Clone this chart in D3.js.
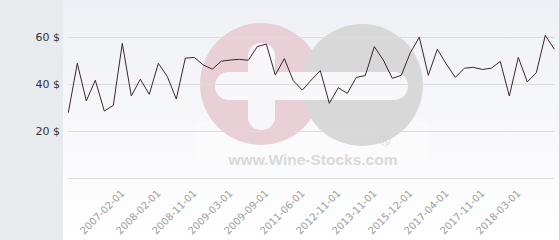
<!DOCTYPE html>
<html lang="en">
<head>
    <script src="https://d3js.org/d3.v7.min.js"></script>
    <style>
        body { margin: 0; background: #fff; }
        svg { display: block; font-family: "DejaVu Sans", sans-serif; }
    </style>
</head>
<body>
    <svg id="chart" width="560" height="240"></svg>
    <script>
        // price per observation, in order
        const prices = [27.8, 48.8, 32.8, 41.6, 28.5, 30.9, 57.3, 34.9, 42.0, 35.6,
            48.8, 43.2, 33.6, 51.0, 51.3, 48.1, 46.3, 49.7, 50.2, 50.5,
            50.1, 55.9, 57.0, 43.8, 50.8, 41.4, 37.4, 41.7, 45.7, 31.8,
            38.4, 36.0, 42.8, 43.6, 55.9, 50.2, 42.4, 43.7, 53.3, 59.9,
            43.7, 54.8, 48.5, 42.8, 46.7, 47.1, 46.2, 46.7, 49.6, 34.9,
            51.3, 40.9, 44.8, 60.7, 54.8];

        // dates shown on the x axis and the observation they belong to
        const tickLabels = ["2007-02-01", "2008-02-01", "2008-11-01", "2009-03-01",
            "2009-09-01", "2011-06-01", "2012-11-01", "2013-11-01",
            "2015-12-01", "2017-04-01", "2017-11-01", "2018-03-01"];
        const tickIndex = [6, 10, 14, 18, 22, 26, 30, 34, 38, 42, 46, 50];

        const yTicks = [20, 40, 60];
        const gridValues = [0, 20, 40, 60];

        const width = 560, height = 240;
        const svg = d3.select("#chart");

        // backgrounds
        const defs = svg.append("defs");
        const grad = defs.append("linearGradient")
            .attr("id", "plotbg").attr("x1", 0).attr("y1", 0).attr("x2", 0).attr("y2", 1);
        grad.append("stop").attr("offset", "0%").attr("stop-color", "#eff0f5");
        grad.append("stop").attr("offset", "100%").attr("stop-color", "#ffffff");

        svg.append("rect").attr("x", 0).attr("y", 0).attr("width", 63).attr("height", height)
            .attr("fill", "#e7ebee");
        svg.append("rect").attr("x", 63).attr("y", 0).attr("width", width - 63).attr("height", height)
            .attr("fill", "url(#plotbg)");
        svg.append("line").attr("x1", 559.5).attr("x2", 559.5).attr("y1", 0).attr("y2", height)
            .attr("stroke", "#d0d0d0");

        const x = d3.scaleLinear().domain([0, prices.length - 1]).range([68.3, 554.3]);
        const y = d3.scaleLinear().domain([0, 60]).range([178, 37]);

        // watermark
        const wm = svg.append("g");
        wm.append("rect").attr("x", 196).attr("y", 122).attr("width", 232).attr("height", 40)
            .attr("fill", "#fff").attr("opacity", 0.3);
        wm.append("circle").attr("cx", 261).attr("cy", 84).attr("r", 61).attr("fill", "#e9d0d6");
        wm.append("circle").attr("cx", 362).attr("cy", 85).attr("r", 61).attr("fill", "#d8d8d9");
        wm.append("rect").attr("x", 215).attr("y", 72).attr("width", 193).attr("height", 28)
            .attr("rx", 14).attr("fill", "#f7f7f9");
        wm.append("rect").attr("x", 248).attr("y", 43).attr("width", 27).attr("height", 87)
            .attr("rx", 13).attr("fill", "#f7f7f9");
        wm.append("text").attr("x", 313).attr("y", 165).attr("text-anchor", "middle")
            .attr("font-family", "Liberation Sans, Arial, sans-serif")
            .attr("font-weight", "bold").attr("font-size", 15.5)
            .attr("fill", "#d9d9d9").text("www.Wine-Stocks.com");
        wm.append("text").attr("x", 385).attr("y", 146).attr("text-anchor", "middle")
            .attr("font-family", "Liberation Sans, Arial, sans-serif")
            .attr("font-size", 15).attr("fill", "#d4d4d4").text("®");

        // grid
        svg.append("g").selectAll("line").data(gridValues).enter().append("line")
            .attr("x1", x(0)).attr("x2", x(prices.length - 1))
            .attr("y1", d => Math.round(y(d)) + 0.5).attr("y2", d => Math.round(y(d)) + 0.5)
            .attr("stroke", "#dcdcdf").attr("stroke-width", 1);

        // y labels
        svg.append("g").selectAll("text").data(yTicks).enter().append("text")
            .attr("x", 60).attr("y", d => y(d)).attr("dy", "0.35em")
            .attr("text-anchor", "end").attr("font-size", 11).attr("fill", "#333")
            .text(d => d + " $");

        // x labels
        svg.append("g").selectAll("text").data(tickLabels).enter().append("text")
            .attr("transform", (d, i) => `translate(${x(tickIndex[i]) + 3},${194}) rotate(-45)`)
            .attr("text-anchor", "end").attr("font-size", 10).attr("fill", "#9c9c9c")
            .text(d => d);

        // line
        const line = d3.line().x((d, i) => x(i)).y(d => y(d));
        svg.append("path").datum(prices)
            .attr("d", line)
            .attr("fill", "none")
            .attr("stroke", "#3b2532")
            .attr("stroke-width", 1);
    </script>
</body>
</html>
